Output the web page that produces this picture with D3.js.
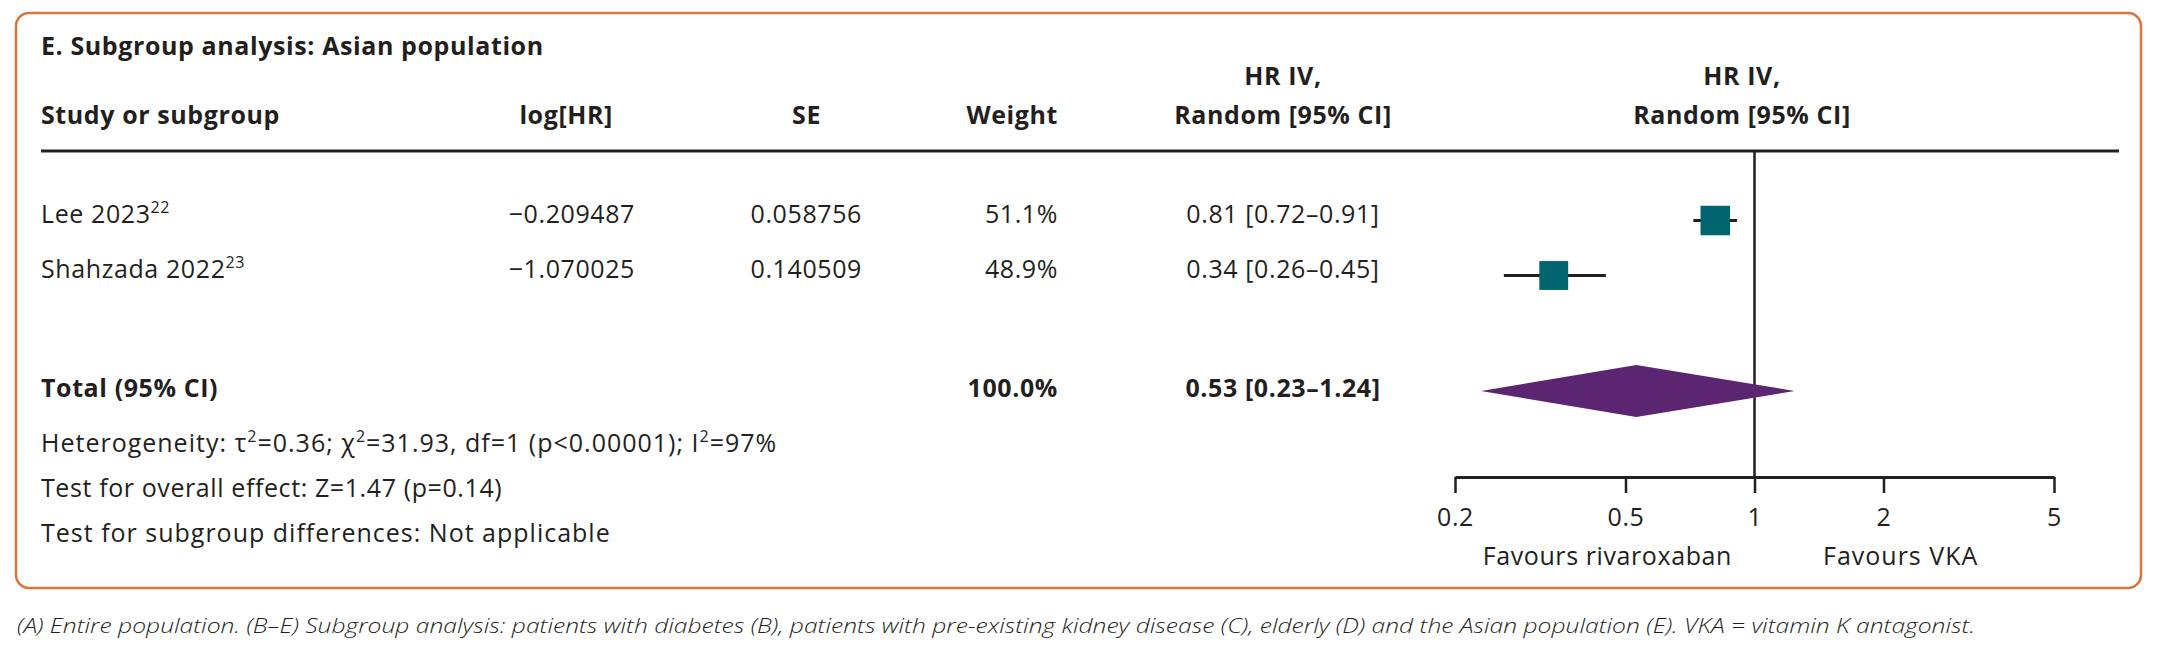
<!DOCTYPE html>
<html>
<head>
<meta charset="utf-8">
<script src="https://cdn.jsdelivr.net/npm/d3@7/dist/d3.min.js"></script>
<style>
  html, body { margin: 0; padding: 0; background: #ffffff; }
  svg { display: block; }
  text { font-family: "Open Sans", Lato, sans-serif; fill: #231f20; letter-spacing: 0.6px; }
  text.wide { letter-spacing: 1px; }
  text.caption { letter-spacing: 0; }
</style>
</head>
<body>
<svg id="chart" width="2159" height="668"></svg>
<script>
// ---------------- data ----------------
const studies   = ["Lee 2023", "Shahzada 2022"];
const refs      = ["22", "23"];
const logHR     = [-0.209487, -1.070025];
const se        = [0.058756, 0.140509];
const weights   = [51.1, 48.9];
const hr        = [0.81, 0.34];
const hrLow     = [0.72, 0.26];
const hrHigh    = [0.91, 0.45];
const totalLabel = "Total (95% CI)";
const totalWeight = 100.0;
const totalHR   = 0.53;
const totalLow  = 0.23;
const totalHigh = 1.24;
const tickValues = [0.2, 0.5, 1, 2, 5];
const tickLabels = ["0.2", "0.5", "1", "2", "5"];
const favoursLeft = "Favours rivaroxaban";
const favoursRight = "Favours VKA";
const title = "E. Subgroup analysis: Asian population";
const caption = "(A) Entire population. (B\u2013E) Subgroup analysis: patients with diabetes (B), patients with pre-existing kidney disease (C), elderly (D) and the Asian population (E). VKA = vitamin K antagonist.";

// ---------------- layout ----------------
const svg = d3.select("#chart");
const FS = 25;
const ink = "#231f20";

// frame
svg.append("rect")
  .attr("x", 16).attr("y", 13).attr("width", 2125).attr("height", 575)
  .attr("rx", 13).attr("ry", 13)
  .attr("fill", "none").attr("stroke", "#d9743a").attr("stroke-width", 2.5);

// title
svg.append("text").attr("x", 41).attr("y", 55)
  .attr("font-size", FS).attr("font-weight", 700).text(title);

// column anchors
const col = { study: 41, logHR: 635, se: 862, weight: 1058, hrText: 1283, plot: 1742 };

// headers
const hdrY = 124, hdrY1 = 85;
const hdr = svg.append("g").attr("font-size", FS).attr("font-weight", 700);
hdr.append("text").attr("x", col.study).attr("y", hdrY).text("Study or subgroup");
hdr.append("text").attr("x", 613).attr("y", hdrY).attr("text-anchor", "end").text("log[HR]");
hdr.append("text").attr("x", 821).attr("y", hdrY).attr("text-anchor", "end").text("SE");
hdr.append("text").attr("x", col.weight).attr("y", hdrY).attr("text-anchor", "end").text("Weight");
[col.hrText, col.plot].forEach(cx => {
  hdr.append("text").attr("x", cx).attr("y", hdrY1).attr("text-anchor", "middle").text("HR IV,");
  hdr.append("text").attr("x", cx).attr("y", hdrY).attr("text-anchor", "middle").text("Random [95% CI]");
});

// header rule
svg.append("line").attr("x1", 41).attr("x2", 2119).attr("y1", 151).attr("y2", 151)
  .attr("stroke", ink).attr("stroke-width", 3);

// scales
const x = d3.scaleLog().domain([0.2, 5]).range([1455, 2054]);
const yRow = d3.scaleLinear().domain([0, 1]).range([223, 278]);
const totalY = 397;
const markOffset = -2.5;
const sq = d3.scaleSqrt().domain([0, 51.1]).range([0, 29.5]);

const fmtNum = v => (v < 0 ? "\u2212" : "") + Math.abs(v).toFixed(6);
const fmtHR = (a, b, c) => `${a.toFixed(2)} [${b.toFixed(2)}\u2013${c.toFixed(2)}]`;

// null line
const axisY = 477;
svg.append("line").attr("x1", x(1)).attr("x2", x(1)).attr("y1", 151).attr("y2", axisY)
  .attr("stroke", ink).attr("stroke-width", 2.5);

// study rows
const rows = svg.append("g").attr("font-size", FS);
studies.forEach((s, i) => {
  const y = yRow(i);
  const t = rows.append("text").attr("x", col.study).attr("y", y);
  t.append("tspan").text(s);
  t.append("tspan").attr("font-size", 16).attr("dy", -10).attr("dx", 0).text(refs[i]);
  rows.append("text").attr("x", col.logHR).attr("y", y).attr("text-anchor", "end").text(fmtNum(logHR[i]));
  rows.append("text").attr("x", col.se).attr("y", y).attr("text-anchor", "end").text(se[i].toFixed(6));
  rows.append("text").attr("x", col.weight).attr("y", y).attr("text-anchor", "end").text(weights[i].toFixed(1) + "%");
  rows.append("text").attr("x", col.hrText).attr("y", y).attr("text-anchor", "middle").text(fmtHR(hr[i], hrLow[i], hrHigh[i]));
  const cy = y + markOffset;
  svg.append("line").attr("x1", x(hrLow[i])).attr("x2", x(hrHigh[i])).attr("y1", cy).attr("y2", cy)
    .attr("stroke", ink).attr("stroke-width", 3);
  const s2 = sq(weights[i]);
  svg.append("rect").attr("x", x(hr[i]) - s2 / 2).attr("y", cy - s2 / 2)
    .attr("width", s2).attr("height", s2).attr("fill", "#00656f");
});

// total row
const tot = svg.append("g").attr("font-size", FS).attr("font-weight", 700);
tot.append("text").attr("x", col.study).attr("y", totalY).text(totalLabel);
tot.append("text").attr("x", col.weight).attr("y", totalY).attr("text-anchor", "end").text(totalWeight.toFixed(1) + "%");
tot.append("text").attr("x", col.hrText).attr("y", totalY).attr("text-anchor", "middle").text(fmtHR(totalHR, totalLow, totalHigh));
const dy = totalY - 6;
svg.append("path")
  .attr("d", `M${x(totalLow)},${dy} L${x(totalHR)},${dy - 26} L${x(totalHigh)},${dy} L${x(totalHR)},${dy + 26} Z`)
  .attr("fill", "#5c2572");

// axis
const axis = d3.axisBottom(x).tickValues(tickValues).tickFormat((d, i) => tickLabels[i]).tickSize(16).tickSizeOuter(0).tickPadding(15);
const ag = svg.append("g").attr("transform", `translate(0,${axisY})`).call(axis);
ag.select(".domain").attr("stroke", ink).attr("stroke-width", 3);
ag.selectAll(".tick line").attr("stroke", ink).attr("stroke-width", 2.5);
ag.selectAll(".tick text").attr("font-size", FS).attr("font-family", "'Open Sans', sans-serif").attr("fill", ink);

svg.append("text").attr("x", 1732).attr("y", 565).attr("font-size", FS).attr("text-anchor", "end").text(favoursLeft);
svg.append("text").attr("class", "wide").attr("x", 1823).attr("y", 565).attr("font-size", FS).text(favoursRight);

// footer
const foot = svg.append("g").attr("font-size", FS);
const het = foot.append("text").attr("class", "wide").attr("x", col.study).attr("y", 452);
const hetParts = [["Heterogeneity: \u03c4", false], ["2", true], ["=0.36; \u03c7", false], ["2", true], ["=31.93, df=1 (p<0.00001); I", false], ["2", true], ["=97%", false]];
hetParts.forEach(([t, sup], k) => {
  const ts = het.append("tspan").text(t);
  if (sup) ts.attr("font-size", 16).attr("dy", -10);
  else if (k > 0) ts.attr("dy", 10);
});
foot.append("text").attr("x", col.study).attr("y", 497).text("Test for overall effect: Z=1.47 (p=0.14)");
foot.append("text").attr("class", "wide").attr("x", col.study).attr("y", 542).text("Test for subgroup differences: Not applicable");

// caption
svg.append("text").attr("class", "caption").attr("x", 17).attr("y", 633).attr("font-size", 21)
  .attr("font-family", "Lato, sans-serif")
  .attr("font-style", "italic").attr("font-weight", 300).attr("fill", "#2b2b2b")
  .attr("textLength", 1958).attr("lengthAdjust", "spacingAndGlyphs")
  .text(caption);
</script>
</body>
</html>
